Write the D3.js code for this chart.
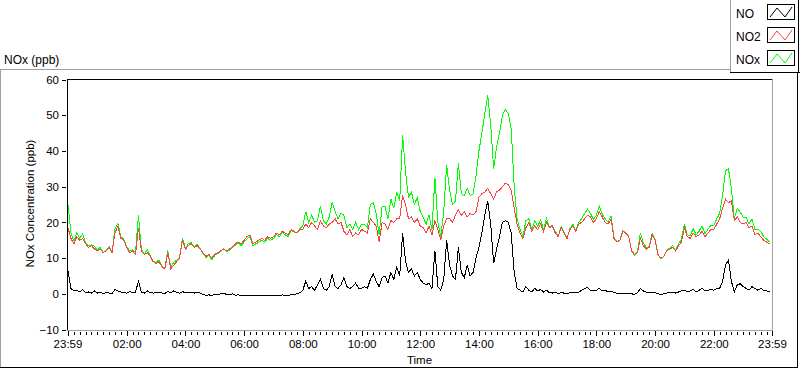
<!DOCTYPE html>
<html>
<head>
<meta charset="utf-8">
<script src="https://cdn.jsdelivr.net/npm/d3@7"></script>
<style>
  body { margin: 0; background: #fff; }
  svg { display: block; font-family: "Liberation Sans", Arial, sans-serif; }
</style>
</head>
<body>
<div id="graph"></div>
<script>
// samples every 6 minutes from 00:00, ten per hour
const sampleStep = 6;

const NO = [
  6.5, 1.5, 0.8, 1, 0.5, 1.2, 0.3, 0.5, 0.2, 0.8,
  0.2, 0.5, 0, 0.3, 0.2, 0, 1.2, 0.8, 0.5, 0.3,
  0.2, 0.6, 0.3, 0.5, 3.5, 0.5, 0.2, 0.8, 0.3, 0.2,
  0.3, 0.5, 0.2, 0.1, 0.6, 0.3, 0.8, 0.4, 0.2, 0.6,
  0.3, 0.5, 0.3, 0.2, 0.4, 0.2, -0.2, -0.4, -0.3, -0.5,
  -0.2, -0.3, 0, 0.2, -0.2, -0.3, 0, -0.4, -0.3, -0.5,
  -0.5, -0.6, -0.5, -0.6, -0.5, -0.6, -0.5, -0.6, -0.5, -0.5,
  -0.5, -0.4, -0.5, -0.3, -0.5, -0.4, -0.3, -0.2, 0, 0.3,
  1, 3.5, 1.5, 2, 1, 2.5, 4, 1.5, 1, 2,
  5.5, 2, 1.5, 2.5, 4.5, 2, 1.5, 2, 3, 1.5,
  1.5, 2, 1.5, 4, 5.5, 3.5, 2, 4.5, 5, 3,
  6, 4, 7.5, 5, 17, 9, 6, 7, 5, 6,
  4, 3, 2.5, 3, 1.5, 12, 2, 1, 4, 15,
  8, 5, 4, 13, 6, 4.5, 8, 5, 6, 10,
  13, 17, 22, 26, 19.5, 8.5, 12.5, 16, 20, 20.5,
  20, 17, 6, 1.5, 1, 0.5, 2, 1, 0.5, 1.5,
  0.8, 1.2, 0.5, 1, 0.3, 0.2, 0.5, 0, 0.3, 0.2,
  0, 0.3, 0.5, 0.2, 0.5, 1, 1.5, 1.7, 1, 0.8,
  1, 1.5, 0.8, 1, 0.5, 0.8, 0.3, 0.2, 0, 0.2,
  0, 0.2, 0, -0.2, 0.3, 1.5, 0.8, 0.5, 0.2, 0.5,
  0.3, 0, -0.3, 0, 0.2, 0.3, 0.5, 0.2, 0.5, 0.8,
  1, 0.5, 0.8, 1.2, 0.5, 1, 1.5, 0.8, 1, 1.2,
  1, 1.5, 1.5, 3.5, 8, 9.5, 3.5, 0.5, 2.5, 2.8,
  2, 1.5, 1, 2, 1.5, 1, 1.5, 1, 0.8, 0.5
];

const NO2 = [
  18.5, 15.5, 14, 16, 15, 15.5, 14, 13, 13.5, 12.5,
  12, 12.5, 11.5, 12, 13, 11.5, 17, 19, 15.5, 15,
  13, 11.5, 12, 11, 18.5, 12, 11, 11.5, 10.5, 9,
  8.5, 9, 7.5, 7, 11.5, 7, 8, 9, 10, 15,
  12.5, 13.5, 14, 13, 13.5, 12.5, 11.5, 10.5, 11, 10,
  11, 11.5, 12, 12.5, 12, 12.5, 13, 14, 14.5, 14,
  15, 16, 16.5, 14, 14.5, 15, 15.5, 15, 16, 15.5,
  16, 17, 16.5, 17.5, 17, 16.5, 18, 17.5, 17, 18,
  18, 19.5, 18.5, 20, 19, 18, 20.5, 19, 18.5, 19.5,
  20, 21, 19.5, 20, 17.5, 16.5, 18, 16, 17, 16.5,
  18, 17.5, 17, 21, 20, 19, 14.5, 20, 19.5, 18,
  20.5, 20, 21, 21, 27.5, 25, 21, 21.5, 20, 21,
  19, 18.5, 17, 19, 16.5, 20.5, 18, 15, 19, 21,
  21, 20, 22, 23.5, 22, 23, 21.5, 22.5, 22, 23,
  27, 28, 28.5, 29.5, 28, 26.5, 28.5, 29, 30, 31,
  30.5, 29, 24, 19.5, 17, 15.5, 18.5, 20, 17.5, 19,
  18, 19.5, 17.5, 20, 18.5, 19, 17, 16, 18.5, 17,
  15.5, 18, 19, 17.5, 19.5, 20, 21, 22, 21.5, 20,
  21, 23, 21.5, 20, 19.5, 21, 15.5, 14.5, 15, 17.5,
  17, 16, 12, 11, 11.5, 15.5, 13.5, 12.5, 13, 16.5,
  15, 11, 10, 10.5, 12, 12.5, 13, 12, 13.5, 14.5,
  18.5, 16, 15.5, 17, 16, 16.5, 17.5, 16, 17, 18,
  18, 19.5, 21, 24, 26.5, 25.5, 26, 20.5, 21.5, 20,
  19.5, 20, 18.5, 19, 16.5, 17, 16, 15, 14.5, 14
];

const NOx = [
  25, 17, 14.8, 17, 15.5, 16.7, 14.3, 13.5, 13.7, 13.3,
  12.2, 13, 11.5, 12.3, 13.2, 11.5, 18.2, 19.8, 16, 15.3,
  13.2, 12.1, 12.3, 11.5, 22, 12.5, 11.2, 12.3, 10.8, 9.2,
  8.8, 9.5, 7.7, 7.1, 12.1, 7.3, 8.8, 9.4, 10.2, 15.6,
  12.8, 14, 14.3, 13.2, 13.9, 12.7, 11.3, 10.1, 10.7, 9.5,
  10.8, 11.2, 12, 12.7, 11.8, 12.2, 13, 13.6, 14.2, 13.5,
  14.5, 15.4, 16, 13.4, 14, 14.4, 15, 14.4, 15.5, 15,
  15.5, 16.6, 16, 17.2, 16.5, 16.1, 17.7, 17.3, 17, 18.3,
  19, 23, 20, 22, 20, 20.5, 24.5, 20.5, 19.5, 21.5,
  25.5, 23, 21, 22.5, 22, 18.5, 19.5, 18, 20, 18,
  19.5, 19.5, 18.5, 25, 25.5, 22.5, 16.5, 24.5, 24.5, 21,
  26.5, 24, 28.5, 26, 44.5, 34, 27, 28.5, 25, 27,
  23, 21.5, 19.5, 22, 18, 32.5, 20, 16, 23, 36,
  29, 25, 26, 36.5, 28, 27.5, 29.5, 27.5, 28, 33,
  40, 45, 50.5, 55.5, 47.5, 35, 41, 45, 50, 51.5,
  50.5, 46, 30, 21, 18, 16, 20.5, 21, 18, 20.5,
  18.8, 20.7, 18, 21, 18.8, 19.2, 17.5, 16, 18.8, 17.2,
  15.5, 18.3, 19.5, 17.7, 20, 21, 22.5, 23.7, 22.5, 20.8,
  22, 24.5, 22.3, 21, 20, 21.8, 15.8, 14.7, 15, 17.7,
  17, 16.2, 12, 10.8, 11.8, 17, 14.3, 13, 13.2, 17,
  15.3, 11, 9.7, 10.5, 12.2, 12.8, 13.5, 12.2, 14, 15.3,
  19.5, 16.5, 16.3, 18.2, 16.5, 17.5, 19, 16.8, 18, 19.2,
  19, 21, 22.5, 27.5, 34.5, 35, 29.5, 21, 24, 22.8,
  21.5, 21.5, 19.5, 21, 18, 18, 17.5, 16, 15.3, 14.5
];

// x ticks in minutes after midnight (23:59 of the day before = -1)
const xTickMinutes = [-1, 120, 240, 360, 480, 600, 720, 840, 960, 1080, 1200, 1320, 1439];
const xTickLabels = ["23:59", "02:00", "04:00", "06:00", "08:00", "10:00", "12:00",
  "14:00", "16:00", "18:00", "20:00", "22:00", "23:59"];
const yTicks = [-10, 0, 10, 20, 30, 40, 50, 60];

const seriesNames = ["NO", "NO2", "NOx"];
const seriesColors = ["#000000", "#ff4040", "#00ff00"];

const w = 800, h = 369;
const plot = { left: 67, top: 79, right: 772, bottom: 330 };

const svg = d3.select("#graph").append("svg")
  .attr("width", w).attr("height", h);

const x = d3.scaleLinear().domain([-1, 1439]).range([plot.left + 0.5, plot.right]);
const y = d3.scaleLinear().domain([-10, 60]).range([plot.bottom - 0.5, plot.top + 0.5]);

// outer panel frame
const frame = svg.append("g").attr("shape-rendering", "crispEdges");
frame.append("line").attr("x1", 0).attr("y1", 69.5).attr("x2", 730).attr("y2", 69.5).attr("stroke", "#a0a0a0");
frame.append("line").attr("x1", 0.5).attr("y1", 69).attr("x2", 0.5).attr("y2", 368).attr("stroke", "#a0a0a0");
frame.append("line").attr("x1", 0).attr("y1", 367.5).attr("x2", 798).attr("y2", 367.5).attr("stroke", "#000");
frame.append("line").attr("x1", 797.5).attr("y1", 72).attr("x2", 797.5).attr("y2", 368).attr("stroke", "#000");

svg.append("text").attr("x", 4).attr("y", 64)
  .attr("font-size", 12).attr("fill", "#000").text("NOx (ppb)");

// y axis
const yAxis = d3.axisLeft(y).tickValues(yTicks).tickSize(5).tickPadding(4);
const gy = svg.append("g").attr("transform", `translate(${plot.left},0)`).call(yAxis);
gy.select(".domain").remove();
gy.selectAll(".tick line").attr("x1", -5).attr("x2", -1).attr("shape-rendering", "crispEdges");
gy.selectAll("text").attr("font-size", 11.5).attr("font-family", "Liberation Sans, Arial, sans-serif").attr("fill", "#000").attr("x", -8);

svg.append("text")
  .attr("transform", `translate(34,${(plot.top + plot.bottom) / 2 - 1}) rotate(-90)`)
  .attr("text-anchor", "middle").attr("font-size", 11.5).attr("fill", "#000")
  .text("NOx Concentration (ppb)");

// x axis: minor ticks every 12 minutes, labelled ticks at 2h
const minorTicks = d3.range(0, 1440, 12);
const gxMinor = svg.append("g").attr("transform", `translate(0,${plot.bottom + 1})`)
  .call(d3.axisBottom(x).tickValues(minorTicks).tickSize(3).tickFormat(""));
gxMinor.select(".domain").remove();
gxMinor.selectAll(".tick line").attr("y1", 1).attr("y2", 4).attr("shape-rendering", "crispEdges");

const gx = svg.append("g").attr("transform", `translate(0,${plot.bottom + 1})`)
  .call(d3.axisBottom(x).tickValues(xTickMinutes).tickSize(5).tickPadding(4)
    .tickFormat((d, i) => xTickLabels[i]));
gx.select(".domain").remove();
gx.selectAll(".tick line").attr("shape-rendering", "crispEdges");
gx.selectAll("text").attr("font-size", 11.5).attr("font-family", "Liberation Sans, Arial, sans-serif").attr("fill", "#000");

svg.append("text").attr("x", (plot.left + plot.right) / 2).attr("y", 364)
  .attr("text-anchor", "middle").attr("font-size", 11.5).attr("fill", "#000").text("Time");

// data lines, NOx underneath, then NO2, then NO
const line = d3.line().x((d, i) => x(i * sampleStep)).y(d => y(d));
const series = [NOx, NO2, NO];
const order = [2, 1, 0];
svg.append("g").selectAll("path").data(series).enter().append("path")
  .attr("d", d => line(d))
  .attr("fill", "none")
  .attr("stroke", (d, i) => seriesColors[order[i]])
  .attr("stroke-width", 1)
  .attr("shape-rendering", "crispEdges");

// plot border: black top/left, grey right/bottom
const border = svg.append("g").attr("shape-rendering", "crispEdges");
border.append("line").attr("x1", plot.left + 0.5).attr("y1", plot.top).attr("x2", plot.left + 0.5).attr("y2", plot.bottom + 1).attr("stroke", "#000");
border.append("line").attr("x1", plot.left).attr("y1", plot.top + 0.5).attr("x2", plot.right + 1).attr("y2", plot.top + 0.5).attr("stroke", "#000");
border.append("line").attr("x1", plot.right + 0.5).attr("y1", plot.top).attr("x2", plot.right + 0.5).attr("y2", plot.bottom + 1).attr("stroke", "#a0a0a0");
border.append("line").attr("x1", plot.left).attr("y1", plot.bottom + 0.5).attr("x2", plot.right + 1).attr("y2", plot.bottom + 0.5).attr("stroke", "#a0a0a0");

// legend
const legend = svg.append("g").attr("id", "legend");
legend.append("rect").attr("x", 730).attr("y", 0).attr("width", 70).attr("height", 73).attr("fill", "#fff");
legend.append("line").attr("x1", 730.5).attr("y1", 0).attr("x2", 730.5).attr("y2", 73).attr("stroke", "#a0a0a0").attr("shape-rendering", "crispEdges");
legend.append("line").attr("x1", 730).attr("y1", 72.5).attr("x2", 800).attr("y2", 72.5).attr("stroke", "#000").attr("shape-rendering", "crispEdges");
legend.append("line").attr("x1", 798.5).attr("y1", 0).attr("x2", 798.5).attr("y2", 73).attr("stroke", "#000").attr("shape-rendering", "crispEdges");

seriesNames.forEach((name, i) => {
  const cy = 13 + i * 23;
  legend.append("text").attr("x", 736).attr("y", cy + 4.5)
    .attr("font-size", 12).attr("fill", "#000").text(name);
  const bx = 767, by = cy - 9;
  legend.append("rect").attr("x", bx + 0.5).attr("y", by + 0.5).attr("width", 27).attr("height", 15)
    .attr("fill", "#fff").attr("stroke", "#000").attr("shape-rendering", "crispEdges");
  legend.append("polyline")
    .attr("points", [[bx + 3, by + 13], [bx + 10, by + 4], [bx + 18, by + 13], [bx + 25, by + 3]].join(" "))
    .attr("fill", "none").attr("stroke", seriesColors[i]).attr("stroke-width", 1);
});
</script>
</body>
</html>
